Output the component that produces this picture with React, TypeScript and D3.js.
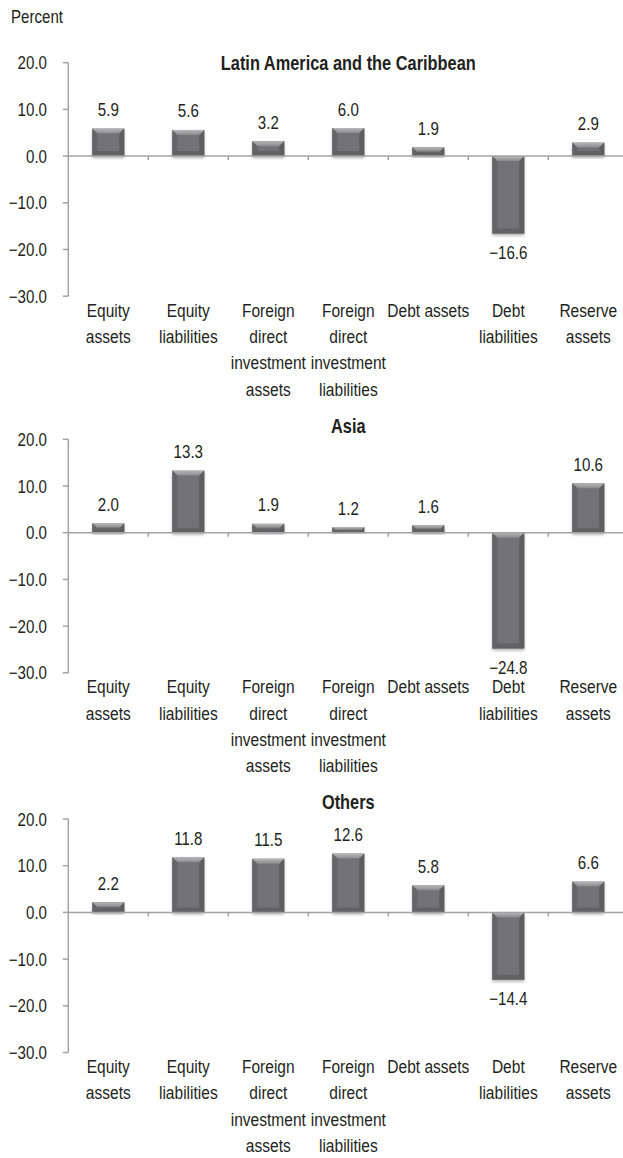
import React from "react";
import * as d3 from "d3";

const categoryLabels: string[][] = [
  ["Equity", "assets"],
  ["Equity", "liabilities"],
  ["Foreign", "direct", "investment", "assets"],
  ["Foreign", "direct", "investment", "liabilities"],
  ["Debt assets"],
  ["Debt", "liabilities"],
  ["Reserve", "assets"],
];
const panelTitles = ["Latin America and the Caribbean", "Asia", "Others"];
const latamValues = [5.9, 5.6, 3.2, 6.0, 1.9, -16.6, 2.9];
const asiaValues = [2.0, 13.3, 1.9, 1.2, 1.6, -24.8, 10.6];
const othersValues = [2.2, 11.8, 11.5, 12.6, 5.8, -14.4, 6.6];
const yTicks = [20, 10, 0, -10, -20, -30];
const yAxisLabel = "Percent";

const W = 623;
const H = 1158;
const FONT = "'Liberation Sans', Arial, sans-serif";
const SX = 0.84;
const TEXT = "#231f20";
const AXIS = "#a3a3a3";

// layout per panel: y of the 20.0 tick, and title baseline
const panelLayout = [
  { top: 62.7, titleY: 70 },
  { top: 439.3, titleY: 433 },
  { top: 819, titleY: 808.5 },
];
const panelValues = [latamValues, asiaValues, othersValues];

const X0 = 68.3;
const X1 = 628.3;

const fmt = (v: number) => (v < 0 ? "\u2212" + Math.abs(v).toFixed(1) : v.toFixed(1));

function CText({
  x,
  y,
  anchor = "middle",
  size,
  bold = false,
  lines,
  lh = 26.3,
}: {
  x: number;
  y: number;
  anchor?: string;
  size: number;
  bold?: boolean;
  lines: string[];
  lh?: number;
}) {
  return (
    <g transform={`translate(${x},${y}) scale(${SX},1)`}>
      <text x={0} y={0} textAnchor={anchor} fontSize={size} fontWeight={bold ? "bold" : "normal"} fill={TEXT}>
        {lines.map((l, j) => (
          <tspan key={j} x={0} dy={j === 0 ? 0 : lh}>
            {l}
          </tspan>
        ))}
      </text>
    </g>
  );
}

function Bar({ x, w, y0, y1 }: { x: number; w: number; y0: number; y1: number }) {
  const top = Math.min(y0, y1);
  const h = Math.abs(y1 - y0);
  const b = Math.min(5, h / 2.2);
  return (
    <g>
      <rect x={x} y={top} width={w} height={h} fill="url(#bodyGrad)" filter="url(#shadow)" />
      <polygon
        points={`${x},${top} ${x + w},${top} ${x + w - b},${top + b} ${x + b},${top + b}`}
        fill="url(#bevelTop)"
      />
      <polygon
        points={`${x},${top + h} ${x + w},${top + h} ${x + w - b},${top + h - b} ${x + b},${top + h - b}`}
        fill="#5e5e60"
        opacity={0.8}
      />
      <polygon
        points={`${x},${top} ${x + b},${top + b} ${x + b},${top + h - b} ${x},${top + h}`}
        fill="#626264"
        opacity={0.7}
      />
      <polygon
        points={`${x + w},${top} ${x + w - b},${top + b} ${x + w - b},${top + h - b} ${x + w},${top + h}`}
        fill="#58585a"
        opacity={0.7}
      />
    </g>
  );
}

function Panel({ idx }: { idx: number }) {
  const { top, titleY } = panelLayout[idx];
  const values = panelValues[idx];
  const y = d3.scaleLinear().domain([20, -30]).range([top, top + 233.5]);
  const x = d3
    .scaleBand<number>()
    .domain(values.map((_, i) => i))
    .range([X0, X1])
    .paddingInner(0.6)
    .paddingOuter(0.3);
  const step = x.step();
  const bw = x.bandwidth();
  const zero = y(0);
  const bottom = y(-30);
  return (
    <g>
      <CText x={(X0 + X1) / 2} y={titleY} size={19.5} bold lines={[panelTitles[idx]]} />
      {/* y axis */}
      <line x1={X0} x2={X0} y1={y(20)} y2={bottom} stroke={AXIS} strokeWidth={1.5} />
      {yTicks.map((t) => (
        <g key={t}>
          <line x1={X0 - 5.5} x2={X0} y1={y(t)} y2={y(t)} stroke={AXIS} strokeWidth={1.5} />
          <CText x={47} y={y(t) + 6.5} anchor="end" size={18} lines={[fmt(t)]} />
        </g>
      ))}
      {/* bars */}
      {values.map((v, i) => (
        <Bar key={i} x={x(i)!} w={bw} y0={zero} y1={y(v)} />
      ))}
      {/* x axis */}
      <line x1={X0} x2={X1} y1={zero} y2={zero} stroke={AXIS} strokeWidth={1.5} />
      {values.map((_, i) => {
        const tx = x(i)! + bw / 2 + step / 2;
        return <line key={i} x1={tx} x2={tx} y1={zero} y2={zero + 4} stroke={AXIS} strokeWidth={1.5} />;
      })}
      {/* value labels */}
      {values.map((v, i) => {
        const cx = x(i)! + bw / 2;
        const ly = v >= 0 ? y(v) - 12.5 : y(v) + 25;
        return <CText key={i} x={cx} y={ly} size={18} lines={[fmt(v)]} />;
      })}
      {/* category labels */}
      {categoryLabels.map((lines, i) => {
        const cx = x(i)! + bw / 2;
        return <CText key={i} x={cx} y={bottom + 20.5} size={18.5} lines={lines} />;
      })}
    </g>
  );
}

export default function App() {
  return (
    <svg
      width={W}
      height={H}
      viewBox={`0 0 ${W} ${H}`}
      style={{ position: "absolute", left: 0, top: 0, background: "#fff" }}
      fontFamily={FONT}
    >
      <defs>
        <linearGradient id="bodyGrad" x1="0" x2="1" y1="0" y2="0">
          <stop offset="0" stopColor="#656567" />
          <stop offset="0.2" stopColor="#737375" />
          <stop offset="0.8" stopColor="#737375" />
          <stop offset="1" stopColor="#636365" />
        </linearGradient>
        <linearGradient id="bevelTop" x1="0" x2="0" y1="0" y2="1">
          <stop offset="0" stopColor="#b8b8ba" />
          <stop offset="1" stopColor="#8a8a8c" />
        </linearGradient>
        <filter id="shadow" x="-20%" y="-20%" width="140%" height="140%">
          <feDropShadow dx="0" dy="2" stdDeviation="1.5" floodColor="#000" floodOpacity="0.3" />
        </filter>
      </defs>
      <rect width={W} height={H} fill="#fff" />
      <CText x={11} y={23} anchor="start" size={18} lines={[yAxisLabel]} />
      {panelTitles.map((_, i) => (
        <Panel key={i} idx={i} />
      ))}
    </svg>
  );
}
